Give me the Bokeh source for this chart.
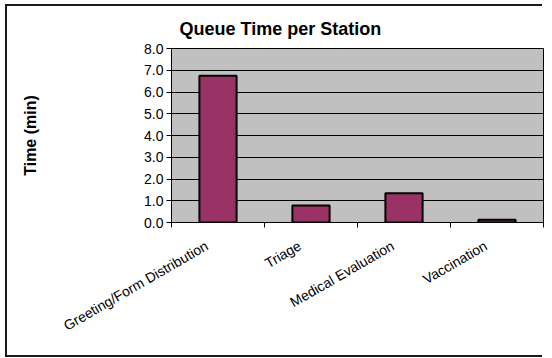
from math import pi

from bokeh.embed import file_html
from bokeh.models import (ColumnDataSource, FixedTicker, InlineStyleSheet,
                          NumeralTickFormatter, Range1d, Title)
from bokeh.plotting import figure
from bokeh.resources import INLINE

# Queue time per station (minutes)
stations = ["Greeting/Form Distribution", "Triage", "Medical Evaluation", "Vaccination"]
queue_minutes = [6.75, 0.78, 1.34, 0.13]
y_ticks = [0, 1, 2, 3, 4, 5, 6, 7, 8]

FONT = "Liberation Sans"

centers = [i + 0.5 for i in range(len(stations))]
source = ColumnDataSource(data=dict(x=centers, top=queue_minutes, station=stations))

# Frame around the chart area (left, top and bottom edges)
frame_css = InlineStyleSheet(css="""
:host::after {
  content: '';
  position: absolute;
  left: 5px; top: 4px; width: 535px; height: 349px;
  border-style: solid;
  border-color: #1a1a1a;
  border-width: 2px 0 2px 2px;
  pointer-events: none;
}
""")

p = figure(
    width=552, height=358,
    x_range=Range1d(0, len(stations)), y_range=Range1d(0, 8),
    output_backend="svg", toolbar_location=None,
    min_border_left=171, min_border_right=9, min_border_top=48, min_border_bottom=136,
    frame_width=372, frame_height=174,
    background_fill_color="#c0c0c0", border_fill_color="white",
    outline_line_color="black", outline_line_width=1,
    stylesheets=[frame_css],
)

p.add_layout(Title(text="Queue Time per Station", text_font=FONT, text_font_size="18px",
                   text_font_style="bold", align="left", offset=8, standoff=20,
                   text_color="black"), "above")

p.vbar(x="x", top="top", width=0.4, source=source,
       fill_color="#993366", line_color="black", line_width=2)

# y axis
p.yaxis.ticker = FixedTicker(ticks=y_ticks)
p.yaxis.formatter = NumeralTickFormatter(format="0.0")
p.yaxis.major_label_text_font = FONT
p.yaxis.major_label_text_font_size = "14px"
p.yaxis.major_label_text_color = "black"
p.yaxis.major_tick_out = 5
p.yaxis.major_tick_in = 0
p.yaxis.minor_tick_line_color = None
p.yaxis.major_label_standoff = 3
p.yaxis.axis_line_color = "black"
p.yaxis.major_tick_line_color = "black"
p.yaxis.axis_label = "Time (min)"
p.yaxis.axis_label_text_font = FONT
p.yaxis.axis_label_text_font_size = "16px"
p.yaxis.axis_label_text_font_style = "bold"
p.yaxis.axis_label_text_color = "black"
p.yaxis.axis_label_standoff = 102

# x axis: names sit just left of each station centre, tick marks at station boundaries
label_pos = [c - 0.12 for c in centers]
p.xaxis.ticker = FixedTicker(ticks=label_pos, minor_ticks=list(range(len(stations) + 1)))
p.xaxis.major_label_overrides = {c: s for c, s in zip(label_pos, stations)}
p.xaxis.major_label_orientation = pi / 6
p.xaxis.major_label_text_font = FONT
p.xaxis.major_label_text_font_size = "14px"
p.xaxis.major_label_text_color = "black"
p.xaxis.major_label_standoff = 16
p.xaxis.major_tick_line_color = None
p.xaxis.minor_tick_out = 5
p.xaxis.minor_tick_in = 0
p.xaxis.minor_tick_line_color = "black"
p.xaxis.axis_line_color = "black"

p.xgrid.grid_line_color = None
p.ygrid.ticker = FixedTicker(ticks=y_ticks)
p.ygrid.grid_line_color = "black"
p.ygrid.grid_line_width = 1

open("out.html", "w").write(file_html(p, INLINE))
